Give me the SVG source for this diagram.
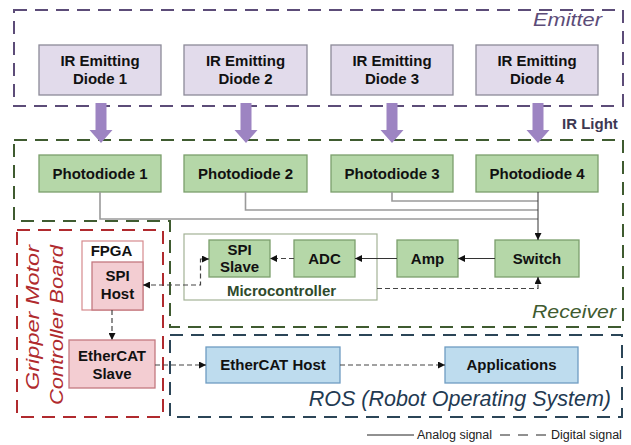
<svg xmlns="http://www.w3.org/2000/svg" width="631" height="445" viewBox="0 0 631 445">
<style>
text{font-family:"Liberation Sans",Arial,sans-serif}
.lbl{font-size:15px;font-weight:bold;fill:#111;text-anchor:middle}
.ir{fill:#e2dbeb;stroke:#8c8a98;stroke-width:1.3}
.pd{fill:#b5d7a8;stroke:#7b9f6c;stroke-width:1.3}
.pk{fill:#f3cdd2;stroke:#c47880;stroke-width:1.3}
.bl{fill:#bedcee;stroke:#6f9cc2;stroke-width:1.3}
.grp{fill:none;stroke-width:2;stroke-dasharray:13 8}
.region{font-style:italic;font-size:18px}
.an{fill:none;stroke:#9a9a9a;stroke-width:1.6}
.sol{fill:none;stroke:#333;stroke-width:1}
.dig{fill:none;stroke:#444;stroke-width:1.2;stroke-dasharray:5 3}
.blk{fill:#9d84c2}
</style>
<defs>
<marker id="ah" viewBox="0 0 8 8" refX="8" refY="4" markerWidth="7" markerHeight="7" markerUnits="userSpaceOnUse" orient="auto-start-reverse">
<path d="M0,0 L8,4 L0,8 Z" fill="#111"/>
</marker>
</defs>

<!-- region outlines -->
<g id="emitter-region">
<rect class="grp" x="14" y="10" width="609" height="96" stroke="#5c4c78"/>
<text class="region" x="602" y="26" text-anchor="end" fill="#5c4c78" textLength="69" lengthAdjust="spacingAndGlyphs">Emitter</text>
</g>
<g id="receiver-region">
<path class="grp" d="M14,140 H623 V327 H170 V221 H14 Z" stroke="#3f5b30"/>
<text class="region" x="616" y="318" text-anchor="end" fill="#3f5b30" textLength="84" lengthAdjust="spacingAndGlyphs">Receiver</text>
</g>
<g id="gripper-region">
<rect class="grp" x="17" y="230" width="146" height="187" stroke="#b02a2e"/>
<text class="region" font-size="19" transform="translate(38.5,390) rotate(-90)" fill="#b02a2e" textLength="145" lengthAdjust="spacingAndGlyphs">Gripper Motor</text>
<text class="region" font-size="19" transform="translate(63,405) rotate(-90)" fill="#b02a2e" textLength="160" lengthAdjust="spacingAndGlyphs">Controller Board</text>
</g>
<g id="ros-region">
<rect class="grp" x="170" y="335" width="452" height="82" stroke="#2b4557"/>
<text x="611" y="406" text-anchor="end" fill="#1f3a52" font-style="italic" font-size="21.5">ROS (Robot Operating System)</text>
</g>

<!-- emitters -->
<g id="ir1"><rect class="ir" x="39" y="45" width="122" height="50"/><text class="lbl" x="100" y="65.5">IR Emitting</text><text class="lbl" x="100" y="83.5">Diode 1</text></g>
<g id="ir2"><rect class="ir" x="184" y="45" width="123" height="50"/><text class="lbl" x="245.5" y="65.5">IR Emitting</text><text class="lbl" x="245.5" y="83.5">Diode 2</text></g>
<g id="ir3"><rect class="ir" x="331" y="45" width="122" height="50"/><text class="lbl" x="392" y="65.5">IR Emitting</text><text class="lbl" x="392" y="83.5">Diode 3</text></g>
<g id="ir4"><rect class="ir" x="476" y="45" width="122" height="50"/><text class="lbl" x="537" y="65.5">IR Emitting</text><text class="lbl" x="537" y="83.5">Diode 4</text></g>

<!-- photodiodes -->
<g id="pd1"><rect class="pd" x="39" y="155" width="122" height="37"/><text class="lbl" x="100" y="178.5">Photodiode 1</text></g>
<g id="pd2"><rect class="pd" x="184" y="155" width="123" height="37"/><text class="lbl" x="245.5" y="178.5">Photodiode 2</text></g>
<g id="pd3"><rect class="pd" x="331" y="155" width="122" height="37"/><text class="lbl" x="392" y="178.5">Photodiode 3</text></g>
<g id="pd4"><rect class="pd" x="476" y="155" width="122" height="37"/><text class="lbl" x="537" y="178.5">Photodiode 4</text></g>

<!-- receiver chain -->
<g id="microcontroller"><rect x="184" y="234" width="193" height="66" fill="#fff" stroke="#a3b296" stroke-width="1.2"/><text x="281.5" y="296" font-size="15" font-weight="bold" fill="#2f4a2c" text-anchor="middle">Microcontroller</text></g>
<g id="spislave"><rect class="pd" x="209" y="240" width="61" height="37"/><text class="lbl" x="239.5" y="254.5">SPI</text><text class="lbl" x="239.5" y="272">Slave</text></g>
<g id="adc"><rect class="pd" x="294" y="240" width="61" height="37"/><text class="lbl" x="324.5" y="264">ADC</text></g>
<g id="amp"><rect class="pd" x="397" y="240" width="61" height="37"/><text class="lbl" x="427.5" y="264">Amp</text></g>
<g id="switch"><rect class="pd" x="495" y="240" width="84" height="37"/><text class="lbl" x="537" y="264">Switch</text></g>

<!-- gripper board -->
<g id="fpga"><rect x="82" y="241" width="61" height="69" fill="#fff" stroke="#d68a8e" stroke-width="1.2"/><text class="lbl" x="111.5" y="255.5">FPGA</text></g>
<g id="spihost"><rect class="pk" x="92" y="262" width="51" height="48"/><text class="lbl" x="117.5" y="281">SPI</text><text class="lbl" x="117.5" y="299">Host</text></g>
<g id="ethercatslave"><rect class="pk" x="69" y="340" width="86" height="48"/><text class="lbl" x="112" y="360.5">EtherCAT</text><text class="lbl" x="112" y="379">Slave</text></g>

<!-- ROS -->
<g id="ethercathost"><rect class="bl" x="206" y="347" width="134" height="36"/><text class="lbl" x="273" y="369.5">EtherCAT Host</text></g>
<g id="applications"><rect class="bl" x="445" y="347" width="133" height="36"/><text class="lbl" x="511.5" y="369.5">Applications</text></g>

<!-- connectors -->
<g id="connectors">
<path class="blk" d="M95.5,103 H106.5 V130 H112.5 L101,143 L89.5,130 H95.5 Z"/>
<path class="blk" d="M240.5,103 H251.5 V130 H257.5 L246,143 L234.5,130 H240.5 Z"/>
<path class="blk" d="M386.5,103 H397.5 V130 H403.5 L392,143 L380.5,130 H386.5 Z"/>
<path class="blk" d="M532.5,103 H543.5 V130 H549.5 L538,143 L526.5,130 H532.5 Z"/>
<text x="562" y="129" font-size="15" font-weight="bold" fill="#3d3852">IR Light</text>

<path class="an" d="M100,192 V219 H538"/>
<path class="an" d="M245.5,192 V210 H538"/>
<path class="an" d="M392,192 V201 H538"/>
<path class="sol" d="M538,192 V240" marker-end="url(#ah)"/>
<path class="sol" d="M495,258.5 H458" marker-end="url(#ah)"/>
<path class="sol" d="M397,258.5 H355" marker-end="url(#ah)"/>
<path class="dig" d="M294,258.5 H270" marker-end="url(#ah)"/>
<path class="dig" d="M143,285 H200.5 V259 H209" marker-start="url(#ah)" marker-end="url(#ah)"/>
<path class="dig" d="M377,288.5 H538 V277" marker-end="url(#ah)"/>
<path class="dig" d="M112,310 V340" marker-end="url(#ah)"/>
<path class="dig" d="M155,365 H206" marker-end="url(#ah)"/>
<path class="dig" d="M340,365 H445" marker-end="url(#ah)"/>
</g>

<!-- legend -->
<g id="legend">
<line x1="367" y1="435" x2="414" y2="435" stroke="#222" stroke-width="1"/>
<text x="417" y="439" font-size="12.5" fill="#222">Analog signal</text>
<line x1="500" y1="435" x2="546" y2="435" stroke="#222" stroke-width="1" stroke-dasharray="10 8"/>
<text x="551" y="439" font-size="12.5" fill="#222">Digital signal</text>
</g>
</svg>
